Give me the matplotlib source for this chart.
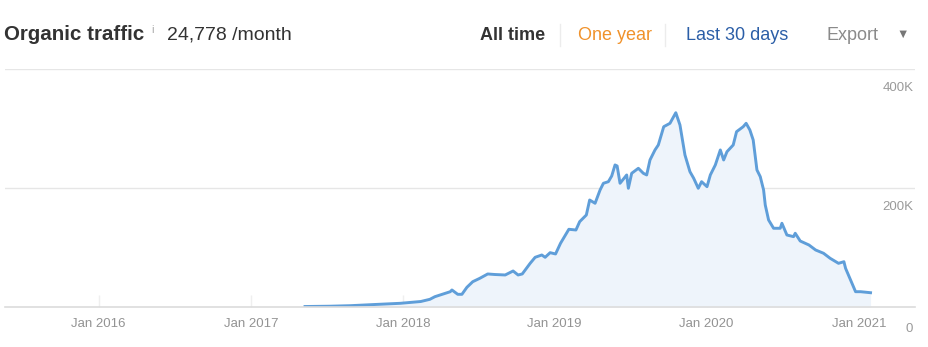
import numpy as np
import matplotlib.pyplot as plt
import matplotlib.dates as mdates
import pandas as pd

plt.rcParams["font.family"] = ["Liberation Sans", "DejaVu Sans"]

# Data (date, organic traffic)
dates = ["2017-05-11", "2017-07-10", "2017-08-28", "2017-10-26", "2017-12-26",
         "2018-02-13", "2018-03-07", "2018-03-19", "2018-04-25", "2018-04-29",
         "2018-05-13", "2018-05-23", "2018-06-04", "2018-06-18", "2018-07-05",
         "2018-07-24", "2018-08-10", "2018-09-04", "2018-09-23", "2018-10-05",
         "2018-10-15", "2018-11-03", "2018-11-15", "2018-12-01", "2018-12-09",
         "2018-12-21", "2019-01-03", "2019-01-15", "2019-02-04", "2019-02-21",
         "2019-03-02", "2019-03-18", "2019-03-26", "2019-04-08", "2019-04-20",
         "2019-04-28", "2019-05-10", "2019-05-18", "2019-05-26", "2019-05-31",
         "2019-06-07", "2019-06-23", "2019-06-27", "2019-07-05", "2019-07-21",
         "2019-08-02", "2019-08-10", "2019-08-18", "2019-08-30", "2019-09-07",
         "2019-09-20", "2019-10-05", "2019-10-12", "2019-10-19", "2019-10-29",
         "2019-11-10", "2019-11-22", "2019-12-01", "2019-12-12", "2019-12-20",
         "2020-01-02", "2020-01-10", "2020-01-22", "2020-02-03", "2020-02-11",
         "2020-02-19", "2020-03-05", "2020-03-13", "2020-03-29", "2020-04-05",
         "2020-04-14", "2020-04-22", "2020-05-01", "2020-05-09", "2020-05-17",
         "2020-05-21", "2020-05-29", "2020-06-10", "2020-06-26", "2020-06-30",
         "2020-07-12", "2020-07-28", "2020-08-01", "2020-08-13", "2020-09-03",
         "2020-09-19", "2020-10-08", "2020-10-24", "2020-11-13", "2020-11-26",
         "2020-11-30", "2020-12-12", "2020-12-24", "2021-01-05", "2021-01-29"]
traffic = [800, 1300, 2200, 4200, 6200,
           9200, 12900, 17300, 25700, 28600,
           21300, 21300, 33100, 42500, 48200,
           55500, 54600, 53800, 60500, 53800,
           55500, 73400, 83500, 87400, 83500,
           91300, 89100, 107100, 130600, 129400,
           143400, 154600, 179800, 174300, 196600,
           207900, 210600, 220200, 238700, 237000,
           207900, 221900, 199500, 224700, 233100,
           224700, 221900, 247100, 263900, 272300,
           303000, 308700, 317600, 326500, 305900,
           255500, 227400, 216300, 199500, 210600,
           202200, 221900, 238700, 263900, 247100,
           261000, 272300, 294600, 303000, 308700,
           297500, 280700, 230300, 219000, 196600,
           171400, 146200, 132300, 132300, 140700,
           121000, 118200, 123900, 110900, 104200,
           95800, 90300, 81800, 73400, 76100,
           65000, 45400, 25700, 25700, 24000]

tick_years = [2016, 2017, 2018, 2019, 2020, 2021]
y_ticks = [0, 200000, 400000]
y_labels = ["0", "200K", "400K"]

df = pd.DataFrame({"date": pd.to_datetime(dates), "traffic": traffic})

fig = plt.figure(figsize=(9.29, 3.47), dpi=100)
ax = fig.add_axes([0.0054, 0.1153, 0.9796, 0.6859])

line_color = "#5f9ed9"
ax.fill_between(df["date"], df["traffic"], 0, color="#eef4fb", lw=0)
ax.plot(df["date"], df["traffic"], color=line_color, lw=2.1)

ax.set_xlim(pd.Timestamp("2015-05-21"), pd.Timestamp("2021-05-16"))
ax.set_ylim(0, 400000)

# x axis
ax.set_xticks([pd.Timestamp(f"{y}-01-01") for y in tick_years])
ax.set_xticklabels([f"Jan {y}" for y in tick_years])
ax.tick_params(axis="x", direction="in", length=9, width=1, color="#efefef",
               labelcolor="#939393", labelsize=9.5, pad=8)

# y gridlines, labels drawn beneath each line at right edge
ax.set_yticks(y_ticks)
ax.set_yticklabels([])
ax.tick_params(axis="y", length=0)
ax.grid(axis="y", color="#e6e6e6", lw=1)
for v, lab in zip(y_ticks, y_labels):
    if v == 0:
        ax.annotate(lab, xy=(1, v), xycoords=("axes fraction", "data"),
                    xytext=(-4, -16), textcoords="offset points",
                    ha="center", va="center", color="#9a9a9a", fontsize=9.5)
    else:
        ax.annotate(lab, xy=(1, v), xycoords=("axes fraction", "data"),
                    xytext=(-1, -14), textcoords="offset points",
                    ha="right", va="center", color="#9a9a9a", fontsize=9.5)

for s in ["top", "left", "right"]:
    ax.spines[s].set_visible(False)
ax.spines["bottom"].set_color("#dcdcdc")
ax.spines["bottom"].set_linewidth(1.2)
ax.set_axisbelow(True)

# header
hy = 1 - 35 / 347
fig.text(4 / 929, hy, "Organic traffic", fontsize=14.8, fontweight="bold",
         color="#333333", va="center")
fig.text(151 / 929, hy + 0.015, "i", fontsize=8, color="#aaaaaa", va="center")
fig.text(167 / 929, hy, "24,778 /month", fontsize=14, color="#333333", va="center")

fig.text(480 / 929, hy, "All time", fontsize=13, fontweight="bold",
         color="#333333", va="center")
fig.text(578 / 929, hy, "One year", fontsize=13, color="#f0922b", va="center")
fig.text(686 / 929, hy, "Last 30 days", fontsize=13, color="#2b5ea7", va="center")
fig.text(827 / 929, hy, "Export", fontsize=13, color="#8a8a8a", va="center")
fig.text(896 / 929, hy, "\u25bc", fontsize=9, color="#777777", va="center")
for sx in [560, 665]:
    fig.add_artist(plt.Line2D([sx / 929, sx / 929], [1 - 24 / 347, 1 - 46 / 347],
                              color="#ececec", lw=1))

fig.savefig("out.png", dpi=100)
